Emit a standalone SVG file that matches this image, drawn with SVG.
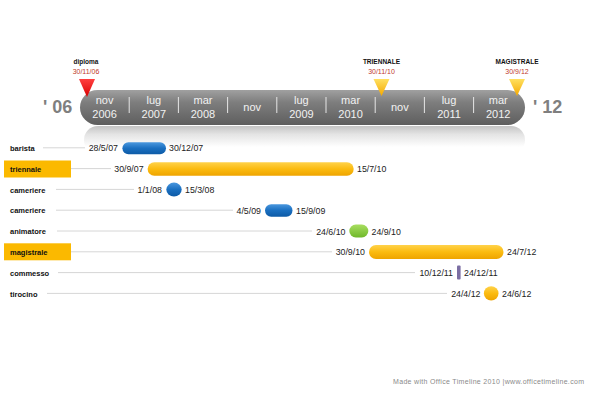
<svg xmlns="http://www.w3.org/2000/svg" width="590" height="396" viewBox="0 0 590 396">
<defs>
<linearGradient id="gBar" x1="0" y1="0" x2="0" y2="1">
<stop offset="0" stop-color="#a0a0a0"/><stop offset="0.35" stop-color="#7e7e7e"/><stop offset="1" stop-color="#5e5e5e"/>
</linearGradient>
<linearGradient id="gRefl" x1="0" y1="0" x2="0" y2="1">
<stop offset="0" stop-color="#c4c4c4"/><stop offset="0.3" stop-color="#e4e4e4"/><stop offset="0.75" stop-color="#ffffff"/>
</linearGradient>
<linearGradient id="gBlue" x1="0" y1="0" x2="0" y2="1">
<stop offset="0" stop-color="#4a97de"/><stop offset="0.5" stop-color="#1a6fc0"/><stop offset="1" stop-color="#0d5aa6"/>
</linearGradient>
<linearGradient id="gYel" x1="0" y1="0" x2="0" y2="1">
<stop offset="0" stop-color="#ffd24a"/><stop offset="0.5" stop-color="#fbbb10"/><stop offset="1" stop-color="#eea400"/>
</linearGradient>
<linearGradient id="gGreen" x1="0" y1="0" x2="0" y2="1">
<stop offset="0" stop-color="#a8de60"/><stop offset="1" stop-color="#6fb82a"/>
</linearGradient>
<linearGradient id="gRed" x1="0" y1="0" x2="0" y2="1">
<stop offset="0" stop-color="#ff4040"/><stop offset="1" stop-color="#d80000"/>
</linearGradient>
<linearGradient id="gTri" x1="0" y1="0" x2="0" y2="1">
<stop offset="0" stop-color="#ffe060"/><stop offset="1" stop-color="#f4a800"/>
</linearGradient>
</defs>
<style>
.sc{font-family:"Liberation Sans",Arial,sans-serif;font-size:11px;fill:#f2f2f2;text-anchor:middle}
.sep{stroke:#e6e6e6;stroke-width:1}
.yr{font-family:"Liberation Sans",Arial,sans-serif;font-size:18px;font-weight:bold;fill:#7f7f7f}
.ml{font-family:"Liberation Sans",Arial,sans-serif;font-size:6.5px;font-weight:bold;fill:#111;text-anchor:middle}
.md{font-family:"Liberation Sans",Arial,sans-serif;font-size:7px;fill:#c0392b;text-anchor:middle}
.rl{font-family:"Liberation Sans",Arial,sans-serif;font-size:7.5px;font-weight:bold;fill:#111}
.dl{font-family:"Liberation Sans",Arial,sans-serif;font-size:8.8px;fill:#222}
.dr{text-anchor:end}
.lead{stroke:#d6d6d6;stroke-width:1}
.hl{fill:#fbb900}
.ft{font-family:"Liberation Sans",Arial,sans-serif;font-size:7px;fill:#8a8a8a}
</style>

<g id="scale">
<rect x="84" y="126" width="441" height="28" rx="14" fill="url(#gRefl)"/>
<rect x="80" y="90" width="445" height="35" rx="17.5" fill="url(#gBar)"/>
<g class="sep-lines">
<line class="sep" x1="129.2" y1="97" x2="129.2" y2="113"/>
<line class="sep" x1="178.4" y1="97" x2="178.4" y2="113"/>
<line class="sep" x1="227.6" y1="97" x2="227.6" y2="113"/>
<line class="sep" x1="276.8" y1="97" x2="276.8" y2="113"/>
<line class="sep" x1="326" y1="97" x2="326" y2="113"/>
<line class="sep" x1="375.2" y1="97" x2="375.2" y2="113"/>
<line class="sep" x1="424.4" y1="97" x2="424.4" y2="113"/>
<line class="sep" x1="473.6" y1="97" x2="473.6" y2="113"/>
</g>
<text class="sc" x="104.6" y="104">nov</text><text class="sc" x="104.6" y="118">2006</text>
<text class="sc" x="153.8" y="104">lug</text><text class="sc" x="153.8" y="118">2007</text>
<text class="sc" x="203" y="104">mar</text><text class="sc" x="203" y="118">2008</text>
<text class="sc" x="252.2" y="111">nov</text>
<text class="sc" x="301.4" y="104">lug</text><text class="sc" x="301.4" y="118">2009</text>
<text class="sc" x="350.6" y="104">mar</text><text class="sc" x="350.6" y="118">2010</text>
<text class="sc" x="399.8" y="111">nov</text>
<text class="sc" x="449" y="104">lug</text><text class="sc" x="449" y="118">2011</text>
<text class="sc" x="498.2" y="104">mar</text><text class="sc" x="498.2" y="118">2012</text>
<text class="yr" x="43" y="113">' 06</text>
<text class="yr" x="533" y="113">' 12</text>
</g>

<g id="m-diploma">
<text class="ml" x="86" y="64">diploma</text>
<text class="md" x="86" y="74">30/11/06</text>
<polygon points="79,79 95,79 87,97" fill="url(#gRed)"/>
</g>
<g id="m-triennale">
<text class="ml" x="381.5" y="64">TRIENNALE</text>
<text class="md" x="381.5" y="74">30/11/10</text>
<polygon points="373.5,79 389.5,79 381.5,96" fill="url(#gTri)"/>
</g>
<g id="m-magistrale">
<text class="ml" x="517" y="64">MAGISTRALE</text>
<text class="md" x="517" y="74">30/9/12</text>
<polygon points="509,79 525,79 517,96" fill="url(#gTri)"/>
</g>

<g id="connectors">
<line class="lead" x1="43" y1="147.8" x2="85" y2="147.8"/>
<line class="lead" x1="71" y1="168.6" x2="111" y2="168.6"/>
<line class="lead" x1="56" y1="189.4" x2="134" y2="189.4"/>
<line class="lead" x1="56" y1="210.2" x2="233" y2="210.2"/>
<line class="lead" x1="57" y1="231" x2="312" y2="231"/>
<line class="lead" x1="71" y1="251.8" x2="332" y2="251.8"/>
<line class="lead" x1="58" y1="272.6" x2="415" y2="272.6"/>
<line class="lead" x1="47" y1="293.4" x2="447" y2="293.4"/>
</g>

<g id="r-barista">
<text class="rl" x="10" y="151">barista</text>
<text class="dl dr" x="118" y="151.3">28/5/07</text>
<rect x="122.4" y="142.3" width="43.6" height="12" rx="6" fill="url(#gBlue)"/>
<text class="dl" x="169" y="151.3">30/12/07</text>
</g>
<g id="r-triennale">
<rect class="hl" x="4" y="160.5" width="67" height="17"/>
<text class="rl" x="10" y="171.8">triennale</text>
<text class="dl dr" x="143.6" y="172.1">30/9/07</text>
<rect x="147.6" y="162.3" width="206.1" height="13.5" rx="6.7" fill="url(#gYel)"/>
<text class="dl" x="357" y="172.1">15/7/10</text>
</g>
<g id="r-cameriere1">
<text class="rl" x="10" y="192.6">cameriere</text>
<text class="dl dr" x="162" y="192.9">1/1/08</text>
<ellipse cx="174" cy="189.6" rx="7.7" ry="7" fill="url(#gBlue)"/>
<text class="dl" x="185" y="192.9">15/3/08</text>
</g>
<g id="r-cameriere2">
<text class="rl" x="10" y="213.4">cameriere</text>
<text class="dl dr" x="261" y="213.7">4/5/09</text>
<rect x="265" y="204.2" width="27.5" height="12.5" rx="6.2" fill="url(#gBlue)"/>
<text class="dl" x="296" y="213.7">15/9/09</text>
</g>
<g id="r-animatore">
<text class="rl" x="10" y="234.2">animatore</text>
<text class="dl dr" x="345.5" y="234.5">24/6/10</text>
<rect x="349.3" y="224.5" width="19" height="13" rx="6.5" fill="url(#gGreen)"/>
<text class="dl" x="371.5" y="234.5">24/9/10</text>
</g>
<g id="r-magistrale">
<rect class="hl" x="4" y="243.3" width="67" height="17"/>
<text class="rl" x="10" y="255">magistrale</text>
<text class="dl dr" x="365" y="255.3">30/9/10</text>
<rect x="369" y="245" width="134.5" height="14" rx="7" fill="url(#gYel)"/>
<text class="dl" x="507" y="255.3">24/7/12</text>
</g>
<g id="r-commesso">
<text class="rl" x="10" y="275.8">commesso</text>
<text class="dl dr" x="453" y="276.1">10/12/11</text>
<rect x="457" y="265.5" width="3.6" height="14" rx="1" fill="#7b6ea3"/>
<text class="dl" x="464" y="276.1">24/12/11</text>
</g>
<g id="r-tirocino">
<text class="rl" x="10" y="296.6">tirocino</text>
<text class="dl dr" x="480.5" y="296.9">24/4/12</text>
<ellipse cx="491.2" cy="293.4" rx="7.3" ry="7.2" fill="url(#gYel)"/>
<text class="dl" x="502" y="296.9">24/6/12</text>
</g>

<text class="ft" x="393" y="383.5" textLength="191" lengthAdjust="spacing">Made with Office  Timeline  2010  |www.officetimeline.com</text>
</svg>
